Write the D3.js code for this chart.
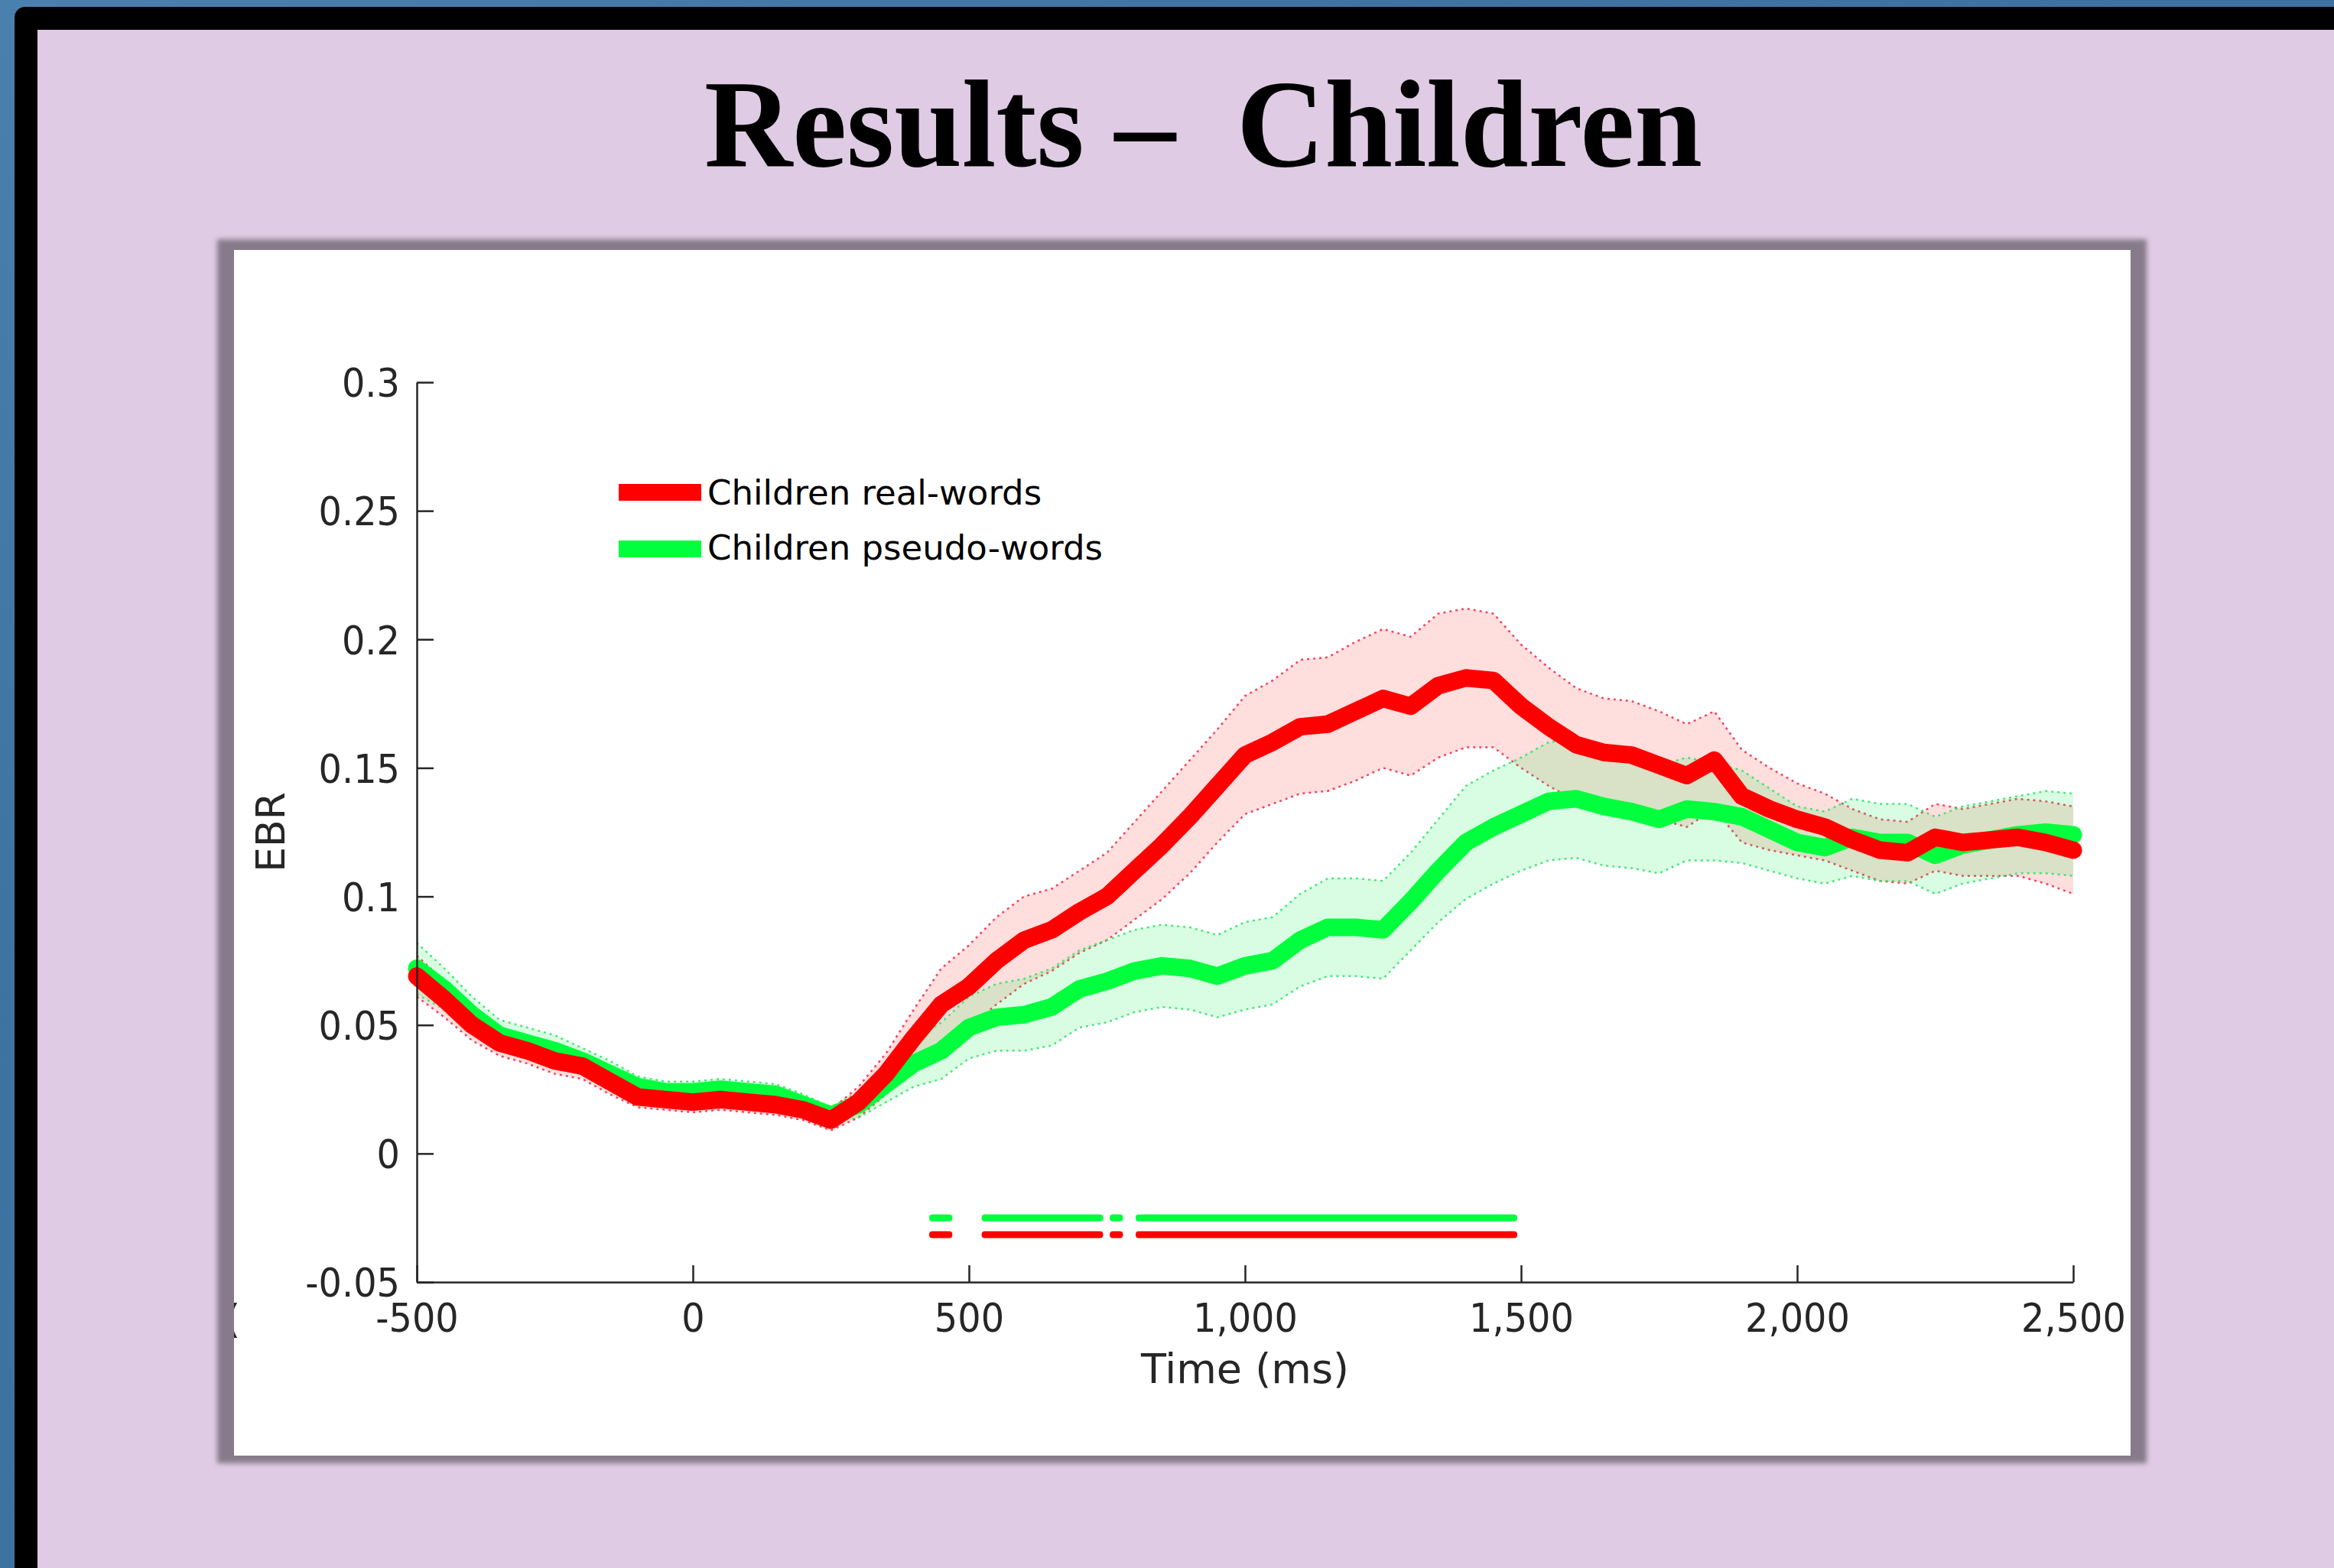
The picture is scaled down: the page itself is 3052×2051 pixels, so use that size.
<!DOCTYPE html>
<html>
<head>
<meta charset="utf-8">
<script src="https://cdn.jsdelivr.net/npm/d3@7"></script>
<style>
  body { margin: 0; background: #3e74a2; }
  svg { display: block; }
</style>
</head>
<body>
<svg id="chart"></svg>
<script>
// Sample times (ms), one every 50 ms
const TIMES = d3.range(-500, 2501, 50);

// Children real-words: mean EBR and half-width of the shaded band
const REAL_MEAN = [
  0.069, 0.060, 0.050, 0.043, 0.040, 0.036, 0.034, 0.028, 0.022, 0.021,
  0.020, 0.021, 0.020, 0.019, 0.017, 0.013, 0.020, 0.031, 0.045, 0.058,
  0.065, 0.075, 0.083, 0.087, 0.094, 0.100, 0.110, 0.120, 0.131, 0.143,
  0.155, 0.160, 0.166, 0.167, 0.172, 0.177, 0.174, 0.182, 0.185, 0.184,
  0.174, 0.166, 0.159, 0.156, 0.155, 0.151, 0.147, 0.153, 0.139, 0.134,
  0.130, 0.127, 0.122, 0.118, 0.117, 0.123, 0.121, 0.122, 0.123, 0.121,
  0.118
];
const REAL_SEM = [
  0.008, 0.007, 0.006, 0.005, 0.005, 0.005, 0.005, 0.005, 0.004, 0.004,
  0.004, 0.004, 0.004, 0.004, 0.004, 0.004, 0.006, 0.008, 0.011, 0.014,
  0.016, 0.017, 0.017, 0.016, 0.016, 0.017, 0.019, 0.021, 0.022, 0.022,
  0.023, 0.024, 0.026, 0.026, 0.027, 0.027, 0.027, 0.028, 0.027, 0.026,
  0.024, 0.023, 0.022, 0.021, 0.021, 0.021, 0.020, 0.019, 0.018, 0.016,
  0.014, 0.013, 0.012, 0.012, 0.012, 0.013, 0.013, 0.014, 0.015, 0.016,
  0.017
];

// Children pseudo-words
const PSEUDO_MEAN = [
  0.072, 0.064, 0.054, 0.046, 0.043, 0.040, 0.036, 0.031, 0.026, 0.024,
  0.024, 0.025, 0.024, 0.023, 0.019, 0.015, 0.019, 0.027, 0.035, 0.040,
  0.049, 0.053, 0.054, 0.057, 0.064, 0.067, 0.071, 0.073, 0.072, 0.069,
  0.073, 0.075, 0.083, 0.088, 0.088, 0.087, 0.098, 0.110, 0.121, 0.127,
  0.132, 0.137, 0.138, 0.135, 0.133, 0.130, 0.134, 0.133, 0.131, 0.126,
  0.121, 0.119, 0.123, 0.121, 0.121, 0.116, 0.120, 0.122, 0.124, 0.125,
  0.124
];
const PSEUDO_SEM = [
  0.010, 0.008, 0.007, 0.006, 0.006, 0.006, 0.005, 0.005, 0.004, 0.004,
  0.004, 0.004, 0.004, 0.004, 0.004, 0.003, 0.005, 0.007, 0.009, 0.011,
  0.012, 0.013, 0.014, 0.015, 0.015, 0.016, 0.016, 0.016, 0.016, 0.016,
  0.017, 0.017, 0.018, 0.019, 0.019, 0.019, 0.019, 0.020, 0.022, 0.022,
  0.022, 0.023, 0.023, 0.023, 0.022, 0.021, 0.020, 0.019, 0.018, 0.016,
  0.014, 0.014, 0.015, 0.015, 0.015, 0.015, 0.015, 0.015, 0.015, 0.016,
  0.016
];

// Significant time windows (ms), drawn as bars under the curves
const SIG_PSEUDO = [[428, 470], [523, 743], [755, 779], [802, 1493]];
const SIG_REAL = [[428, 470], [523, 743], [755, 779], [802, 1493]];

const X_TICKS = [-500, 0, 500, 1000, 1500, 2000, 2500];
const Y_TICKS = [-0.05, 0, 0.05, 0.1, 0.15, 0.2, 0.25, 0.3];
const LEGEND_LABELS = ["Children real-words", "Children pseudo-words"];
const TITLE = "Results –  Children";

const W = 3052, H = 2051;
const RED = "#ff0000", GREEN = "#00ff3c";
const INK = "#262626";
const FONT = "'DejaVu Sans', sans-serif";

const svg = d3.select("#chart").attr("width", W).attr("height", H);
const defs = svg.append("defs");

const grad = defs.append("linearGradient").attr("id", "bg")
  .attr("x1", 0).attr("y1", 0).attr("x2", 1).attr("y2", 1);
grad.append("stop").attr("offset", 0).attr("stop-color", "#4a80ae");
grad.append("stop").attr("offset", 0.3).attr("stop-color", "#3e74a2");
grad.append("stop").attr("offset", 1).attr("stop-color", "#3a6f9c");

defs.append("filter").attr("id", "soft")
  .attr("x", "-5%").attr("y", "-5%").attr("width", "110%").attr("height", "110%")
  .append("feGaussianBlur").attr("stdDeviation", 3);

defs.append("clipPath").attr("id", "panelClip")
  .append("rect").attr("x", 306).attr("y", 327).attr("width", 2480).attr("height", 1577);

// Slide background
svg.append("rect").attr("width", W).attr("height", H).attr("fill", "url(#bg)");
svg.append("rect").attr("x", 19).attr("y", 9).attr("width", W + 100).attr("height", H + 100)
  .attr("rx", 14).attr("fill", "#000");
svg.append("rect").attr("x", 49).attr("y", 39).attr("width", W).attr("height", H)
  .attr("fill", "#dfcbe3");

// Title
svg.append("text")
  .attr("x", 921).attr("y", 217)
  .attr("xml:space", "preserve")
  .style("white-space", "pre")
  .attr("textLength", 1305).attr("lengthAdjust", "spacingAndGlyphs")
  .attr("font-family", "'Liberation Serif', 'Times New Roman', serif")
  .attr("font-weight", "bold").attr("font-size", 163)
  .attr("fill", "#000")
  .text(TITLE);

// Figure panel with grey frame
svg.append("rect").attr("x", 284).attr("y", 313).attr("width", 2523).attr("height", 1601)
  .attr("fill", "#877a8a").attr("filter", "url(#soft)");
svg.append("rect").attr("x", 306).attr("y", 327).attr("width", 2480).attr("height", 1577)
  .attr("fill", "#fff");

// stray clipped glyph at the panel's left edge
svg.append("text")
  .attr("clip-path", "url(#panelClip)")
  .attr("x", 294).attr("y", 1743)
  .attr("font-family", FONT).attr("font-size", 52).attr("fill", INK)
  .text("(");

const x = d3.scaleLinear().domain([-500, 2500]).range([545, 2711]);
const y = d3.scaleLinear().domain([-0.05, 0.3]).range([1677, 500]);

const g = svg.append("g");

const series = [
  { name: LEGEND_LABELS[0], mean: REAL_MEAN, sem: REAL_SEM, color: RED,
    fill: "rgba(255,0,0,0.13)", edge: "rgba(240,40,70,0.85)" },
  { name: LEGEND_LABELS[1], mean: PSEUDO_MEAN, sem: PSEUDO_SEM, color: GREEN,
    fill: "rgba(0,240,70,0.15)", edge: "rgba(40,230,100,0.85)" }
];

const area = d3.area()
  .x((d, i) => x(TIMES[i]))
  .y0(d => y(d[0] - d[1]))
  .y1(d => y(d[0] + d[1]));

// Bands
series.forEach(s => {
  const rows = s.mean.map((m, i) => [m, s.sem[i]]);
  g.append("path").datum(rows).attr("d", area).attr("fill", s.fill);
  [1, -1].forEach(sign => {
    g.append("path")
      .datum(rows)
      .attr("d", d3.line().x((d, i) => x(TIMES[i])).y(d => y(d[0] + sign * d[1])))
      .attr("fill", "none")
      .attr("stroke", s.edge)
      .attr("stroke-width", 2.5)
      .attr("stroke-dasharray", "3,5");
  });
});

// Mean lines: pseudo first, real-words on top
const line = d3.line().x((d, i) => x(TIMES[i])).y(d => y(d));
[series[1], series[0]].forEach(s => {
  g.append("path")
    .datum(s.mean)
    .attr("d", line)
    .attr("fill", "none")
    .attr("stroke", s.color)
    .attr("stroke-width", 23)
    .attr("stroke-linejoin", "round")
    .attr("stroke-linecap", "round");
});

// Significance bars
[[SIG_PSEUDO, GREEN, 1593], [SIG_REAL, RED, 1615]].forEach(([segs, color, cy]) => {
  g.selectAll(null)
    .data(segs)
    .join("rect")
    .attr("x", d => x(d[0]))
    .attr("width", d => x(d[1]) - x(d[0]))
    .attr("y", cy - 4.5)
    .attr("height", 9)
    .attr("rx", 4)
    .attr("fill", color);
});

// Axes (MATLAB style: ticks point inward, no box)
const SQUEEZE = 0.92;
const xAxis = g.append("g")
  .attr("transform", `translate(0,${y(-0.05)})`)
  .call(d3.axisBottom(x).tickValues(X_TICKS)
    .tickFormat(d => d.toLocaleString("en-US"))
    .tickSizeInner(-22).tickSizeOuter(0));
xAxis.selectAll(".tick text")
  .attr("y", 65).attr("dy", 0)
  .attr("transform", `scale(${SQUEEZE},1)`);

const yAxis = g.append("g")
  .attr("transform", `translate(${x(-500)},0)`)
  .call(d3.axisLeft(y).tickValues(Y_TICKS)
    .tickFormat(d => String(d))
    .tickSizeInner(-22).tickSizeOuter(0));
yAxis.selectAll(".tick text")
  .attr("x", -22 / SQUEEZE).attr("dy", "0.36em")
  .attr("transform", `scale(${SQUEEZE},1)`);

[xAxis, yAxis].forEach(a => {
  a.attr("font-family", FONT).attr("font-size", 52);
  a.select(".domain").attr("stroke", INK).attr("stroke-width", 2.5);
  a.selectAll(".tick line").attr("stroke", INK).attr("stroke-width", 2.5);
  a.selectAll(".tick text").attr("fill", INK);
});

// Axis labels
g.append("text")
  .attr("x", x(1000)).attr("y", 1809)
  .attr("text-anchor", "middle")
  .attr("font-family", FONT).attr("font-size", 54).attr("fill", INK)
  .text("Time (ms)");

g.append("text")
  .attr("transform", `translate(372,${y(0.125)}) rotate(-90)`)
  .attr("text-anchor", "middle")
  .attr("font-family", FONT).attr("font-size", 52).attr("fill", INK)
  .text("EBR");

// Legend
const legend = g.append("g");
series.forEach((s, i) => {
  legend.append("rect")
    .attr("x", 809).attr("y", 633 + i * 74)
    .attr("width", 108).attr("height", 22)
    .attr("fill", s.color);
  legend.append("text")
    .attr("x", 925).attr("y", 660 + i * 72)
    .attr("font-family", FONT).attr("font-size", 45).attr("fill", "#000")
    .text(s.name);
});
</script>
</body>
</html>
